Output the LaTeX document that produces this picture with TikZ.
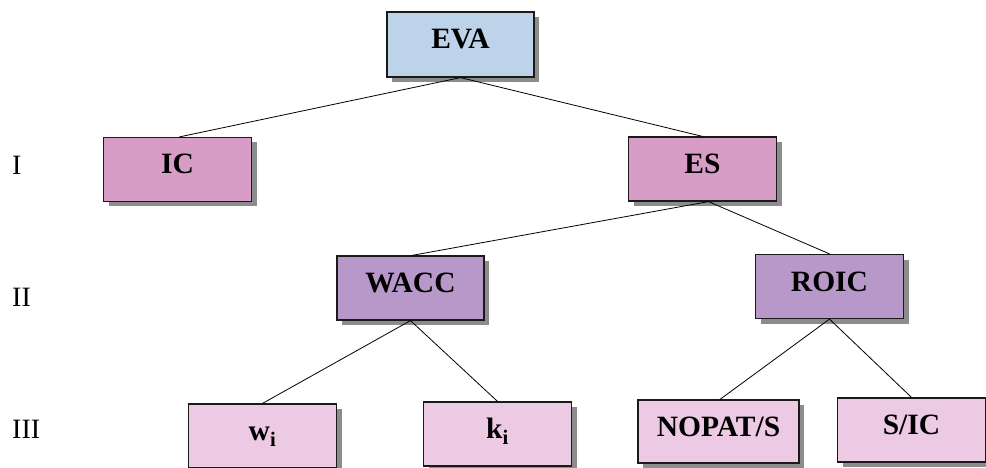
\documentclass[tikz,border=0pt]{standalone}
\usepackage{fontspec}
\setmainfont{Liberation Serif}
\usepackage{xcolor}
\definecolor{evaBlue}{HTML}{BDD3EA}
\definecolor{levelOne}{HTML}{D89DC6}
\definecolor{levelTwo}{HTML}{B898C9}
\definecolor{levelThree}{HTML}{ECCAE3}
\definecolor{boxBorder}{HTML}{1A1A1A}
\usepackage{tikz}
\usetikzlibrary{shadows,positioning}
\tikzset{
    treebox/.style={
        draw=boxBorder,
        rectangle,
        line width=1.2pt,
        minimum height=64pt,
        minimum width=148pt,
        inner sep=0pt,
        text height=20pt,
        text depth=11pt,
        align=center,
        font=\fontsize{29.5}{32}\selectfont\bfseries,
        drop shadow={shadow xshift=5pt, shadow yshift=-5pt, fill=black!45, opacity=1}
    },
    toplevel/.style={treebox, fill=evaBlue},
    firstlevel/.style={treebox, fill=levelOne},
    secondlevel/.style={treebox, fill=levelTwo},
    thirdlevel/.style={treebox, fill=levelThree},
    branch/.style={line width=0.8pt, color=black},
    rowlabel/.style={font=\fontsize{28}{30}\selectfont, anchor=west, inner sep=0pt}
}
\begin{document}
\begin{tikzpicture}[x=1pt, y=-1pt]
    \useasboundingbox (0,0) rectangle (986,468);

    % Row labels
    \node[rowlabel] (rowI) at (12,165) {I};
    \node[rowlabel] (rowII) at (12,297) {II};
    \node[rowlabel] (rowIII) at (12,429) {III};

    % Boxes
    \node[toplevel, minimum width=147pt, minimum height=65pt] (eva) at (460.5,44.5) {EVA};
    \node[firstlevel] (ic) at (177.5,169.5) {IC};
    \node[firstlevel] (es) at (702.5,169) {ES};
    \node[secondlevel, minimum width=147pt] (wacc) at (410.5,288) {WACC};
    \node[secondlevel] (roic) at (829.5,286.5) {ROIC};
    \node[thirdlevel] (wi) at (262.5,436) {w\textsubscript{i}};
    \node[thirdlevel] (ki) at (497.5,434) {k\textsubscript{i}};
    \node[thirdlevel, minimum width=161pt, minimum height=63pt] (nopat) at (718.5,431.5) {NOPAT/S};
    \node[thirdlevel] (sic) at (911.5,430) {S/IC};

    % Connectors
    \draw[branch] (eva.south) -- ([xshift=2pt]ic.north);
    \draw[branch] (eva.south) -- (es.north);
    \draw[branch] ([xshift=6pt]es.south) -- ([xshift=1.5pt]wacc.north);
    \draw[branch] ([xshift=6pt]es.south) -- (roic.north);
    \draw[branch] (wacc.south) -- (wi.north);
    \draw[branch] (wacc.south) -- (ki.north);
    \draw[branch] (roic.south) -- ([xshift=1.5pt]nopat.north);
    \draw[branch] (roic.south) -- (sic.north);
\end{tikzpicture}
\end{document}
